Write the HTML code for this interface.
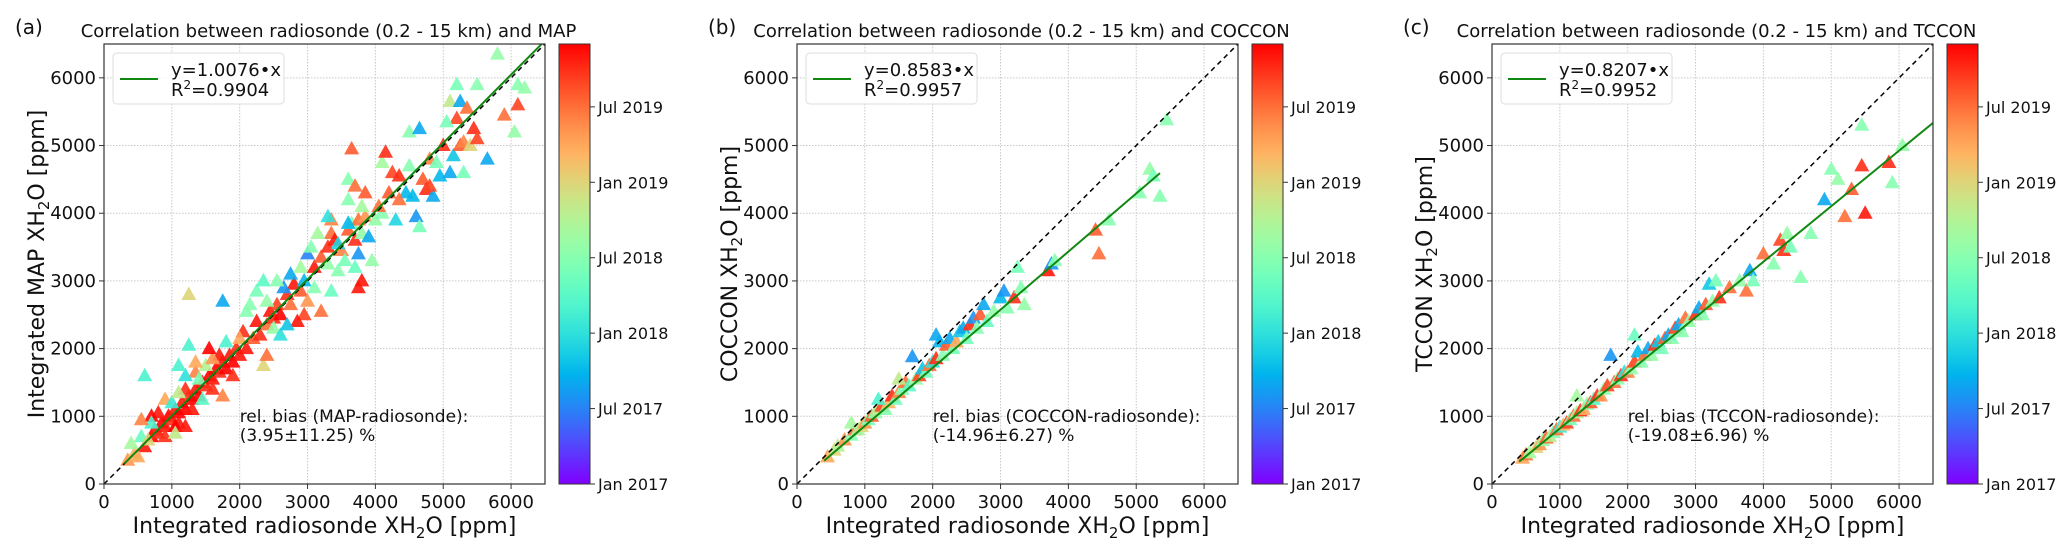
<!DOCTYPE html>
<html><head><meta charset="utf-8"><style>
html,body{margin:0;padding:0;background:#fff;}
svg{display:block;font-family:"DejaVu Sans","Liberation Sans",sans-serif;}
</style></head><body>
<svg id="fig" width="2067" height="552" viewBox="0 0 2067 552"></svg>
<script>
const xTicks=[0,1000,2000,3000,4000,5000,6000];
const yTicks=[0,1000,2000,3000,4000,5000,6000];
const cbTickMonths=[0,6,12,18,24,30];
const cbTickLabels=["Jan 2017","Jul 2017","Jan 2018","Jul 2018","Jan 2019","Jul 2019"];
const panelLetters=["(a)","(b)","(c)"];
const panelTitles=["Correlation between radiosonde (0.2 - 15 km) and MAP","Correlation between radiosonde (0.2 - 15 km) and COCCON","Correlation between radiosonde (0.2 - 15 km) and TCCON"];
const yLabels=["Integrated MAP XH","COCCON XH","TCCON XH"];
const slopes=[1.0076,0.8583,0.8207];
const r2s=["0.9904","0.9957","0.9952"];
const fitRanges=[[300,6500],[400,5350],[400,6500]];
const biasNames=["MAP","COCCON","TCCON"];
const biasVals=["(3.95±11.25) %","(-14.96±6.27) %","(-19.08±6.96) %"];
const dataA=[[600,550,34],[700,700,35],[750,800,34],[800,750,33],[850,900,35],[900,850,34],[950,1000,35],[1000,950,33],[1050,1100,34],[1100,1050,35],[1150,1200,34],[1200,1100,35],[1250,1300,33],[1300,1250,35],[1350,1400,34],[1400,1300,35],[1450,1500,34],[1500,1450,33],[1550,1600,35],[1600,1550,34],[1650,1700,35],[1700,1650,33],[1750,1800,34],[1800,1700,35],[1850,1900,34],[1900,1800,35],[1950,2000,33],[2000,1900,34],[800,1050,34],[900,700,33],[700,1000,35],[1100,900,34],[1200,1400,33],[1050,850,35],[1300,1100,34],[1600,1400,33],[1700,1900,34],[1900,1600,33],[1200,850,34],
[350,350,28],[450,450,26],[500,400,27],[400,600,20],[550,700,16],[650,650,24],[700,900,14],[550,950,29],[900,1250,27],[1000,1200,13],[1100,1350,22],[1050,750,22],[1350,1650,29],[1400,1550,17],[1500,1750,21],[1450,1250,15],[1600,1850,28],[1750,1300,29],[1800,2100,14],[1350,1800,27],[1200,1600,12],
[600,1600,14],[1250,2800,24],[1750,2700,8],[1250,2050,14],[1550,2000,35],[1100,1750,14],[2350,1750,24],
[2050,2250,33],[2100,2000,34],[2200,2150,31],[2250,2400,34],[2300,2200,33],[2400,2350,30],[2450,2550,34],[2500,2450,33],[2550,2650,32],[2600,2500,35],[2700,2800,33],[2750,2650,30],[2800,2950,34],[2900,2850,31],[2950,2500,32],[2850,2400,34],[2150,2650,18],[2250,2850,17],[2350,3000,15],[2400,2700,19],[2500,2300,19],[2600,2200,12],[2700,2350,10],[2650,2900,7],[2550,3000,18],[2750,3100,8],[2900,3200,20],[2950,3000,9],[3000,2700,28],[3100,2900,18],[2100,2550,18],[2000,2150,27],[2400,1900,30],[3200,2550,30],[3000,3400,6],
[3100,3200,34],[3200,3350,31],[3300,3500,33],[3350,3700,30],[3400,3600,34],[3500,3450,29],[3600,3750,31],[3650,3850,18],[3700,3600,33],[3750,3900,30],[3800,3700,19],[3850,3950,28],[3300,3250,19],[3450,3150,18],[3550,3300,17],[3700,3200,16],[3750,2900,34],[3800,3000,34],[3350,3900,29],[3300,3950,12],[3450,3550,11],[3600,3850,9],[3750,3400,7],[3900,3650,8],[3950,3300,19],[3350,2850,16],[3050,3500,18],[3150,3700,20],[3600,4500,18],[3700,4400,30],[3850,4300,31],[3800,4100,20],[3600,4200,18],
[4000,3900,19],[4100,4000,18],[4050,4100,30],[4200,4300,31],[4250,4600,32],[4300,3900,11],[4350,4550,33],[4450,4300,9],[4500,4700,18],[4550,4250,9],[4600,3950,7],[4650,3800,17],[4700,4500,31],[4750,4350,33],[4800,4800,29],[4850,4250,8],[4900,4750,17],[4950,4550,9],[5000,5000,33],[5100,4600,8],[5150,4850,10],[5200,5400,32],[5250,5000,31],[5300,5050,29],[5300,4600,17],[5400,5000,24],[5450,5250,33],[5500,5100,32],[5650,4800,8],[5100,5650,22],[5200,5900,17],[5500,5900,18],[4500,5200,18],[4650,5250,8],[4100,4750,20],[3650,4950,31],[4150,4900,33],[5800,6350,19],[6100,5600,32],[6050,5200,19],[5900,5450,30],[6100,5900,18],[6200,5850,19],[5250,5650,8],[5050,5350,17],[5350,5550,30],[4350,4200,30],[4800,4400,32]];
const dataB=[[450,400,27],[550,500,24],[600,560,21],[700,650,28],[800,720,18],[850,800,30],[900,800,20],[950,850,24],[1000,900,28],[1050,950,17],[1100,1000,31],[1150,1050,19],[1200,1100,22],[1250,1150,32],[1300,1100,18],[1350,1200,26],[1400,1300,33],[1450,1250,17],[1500,1350,29],[1550,1400,18],[1600,1500,30],[1650,1450,15],[1700,1880,7],[1750,1550,19],[1800,1600,32],[1850,1700,10],[1900,1650,17],[1950,1750,30],[2000,1800,12],[2050,1850,33],[2100,2100,9],[2150,1900,18],[2200,2050,31],[2250,2150,8],[2300,2000,17],[2350,2100,27],[2400,2250,10],[2450,2300,8],[2500,2150,17],[2550,2350,33],[2600,2450,7],[2650,2300,18],[2700,2500,31],[2750,2650,8],[2800,2400,16],[2900,2550,19],[3000,2750,9],[3050,2850,7],[3100,2600,18],[3200,2750,33],[3250,3200,17],[3300,2900,18],[3350,2650,19],[3700,3150,34],[3750,3250,7],[3800,3300,18],[4400,3750,31],[4450,3400,30],[4600,3900,18],[5050,4300,18],[5200,4650,19],[5250,4550,17],[5350,4250,18],[5450,5380,18],[2050,2200,8],[1500,1550,22],[1200,1250,14],[800,900,20]];
const dataC=[[450,380,27],[500,430,30],[550,460,20],[650,540,24],[700,580,28],[750,640,19],[800,680,31],[850,700,22],[900,760,18],[950,800,30],[1000,840,13],[1050,870,26],[1100,900,32],[1150,950,17],[1200,1000,30],[1250,1050,20],[1300,1080,33],[1350,1100,27],[1400,1180,18],[1450,1200,31],[1500,1250,15],[1550,1300,33],[1600,1300,28],[1650,1400,19],[1700,1450,32],[1750,1900,7],[1800,1500,30],[1850,1550,18],[1900,1600,33],[1950,1650,12],[2000,1650,29],[2050,1700,19],[2100,1800,32],[2150,1950,9],[2200,1800,18],[2250,1900,30],[2300,2000,8],[2350,1900,19],[2400,2050,33],[2450,2100,10],[2500,2000,17],[2550,2150,31],[2600,2200,8],[2650,2150,18],[2700,2300,32],[2750,2350,8],[2800,2250,18],[2850,2450,30],[2900,2400,19],[3000,2500,33],[3050,2600,8],[3100,2500,18],[3150,2650,31],[3200,2950,10],[3250,2700,19],[3300,3000,17],[3350,2750,33],[3500,2900,30],[3650,3000,19],[3750,2850,30],[3800,3150,8],[3850,3000,17],[4000,3400,30],[4150,3250,18],[4250,3600,32],[4300,3450,33],[4350,3700,19],[4550,3050,18],[4700,3700,18],[4900,4200,8],[5000,4650,18],[5100,4500,19],[5200,3950,30],[5450,4700,33],[5500,4000,34],[5450,5300,18],[5850,4750,33],[5900,4450,18],[6050,5000,19],[5300,4350,31],[4400,3500,17],[2100,2200,16],[1250,1300,20]];
const allData=[dataA,dataB,dataC];

const NS="http://www.w3.org/2000/svg";
const svg=document.getElementById('fig');
function mk(tag,attrs,parent){const e=document.createElementNS(NS,tag);for(const k in attrs)e.setAttribute(k,attrs[k]);(parent||svg).appendChild(e);return e;}
function cmap(v){v=Math.max(0,Math.min(1,v));const r=Math.min(1,Math.abs(2*v-0.5)),g=Math.sin(Math.PI*v),b=Math.cos(Math.PI*v/2);return `rgb(${Math.round(r*255)},${Math.round(g*255)},${Math.round(b*255)})`;}
const T_MAX=35, DMAX=6500;
const lefts=[104,797,1492], W=441, TOP=44, BOT=484;

const defs=mk('defs',{});
const grad=mk('linearGradient',{id:'cbgrad',x1:'0',y1:'1',x2:'0',y2:'0'},defs);
for(let i=0;i<=20;i++){mk('stop',{offset:(i/20),'stop-color':cmap(i/20)},grad);}

for(let p=0;p<3;p++){
  const L=lefts[p], R=L+W;
  const sx=v=>L+v/DMAX*W, sy=v=>BOT-v/DMAX*(BOT-TOP);
  const g=mk('g',{});
  
  
  const cp=mk('clipPath',{id:'clip'+p},defs);
  mk('rect',{x:L,y:TOP,width:W,height:BOT-TOP},cp);
  xTicks.forEach(t=>{const l=mk('line',{x1:sx(t),x2:sx(t),y1:TOP,y2:BOT,stroke:'#c8c8c8','stroke-width':1,'stroke-dasharray':'1.5,1.5'},g);});
  yTicks.forEach(t=>{const l=mk('line',{x1:L,x2:R,y1:sy(t),y2:sy(t),stroke:'#c8c8c8','stroke-width':1,'stroke-dasharray':'1.5,1.5'},g);});
  const pts=mk('g',{'clip-path':`url(#clip${p})`},g);
  
  
  allData[p].forEach(d=>{const cx=sx(d[0]),cy=sy(d[1]);const tri=mk('polygon',{points:`${cx},${cy-8} ${cx-7.5},${cy+5.5} ${cx+7.5},${cy+5.5}`,fill:cmap(d[2]/T_MAX),'fill-opacity':0.9},pts);});
  const one=mk('line',{x1:sx(0),y1:sy(0),x2:sx(DMAX),y2:sy(DMAX),stroke:'#000','stroke-width':1.5,'stroke-dasharray':'5,4','clip-path':`url(#clip${p})`},g);
  
  const fr=fitRanges[p];
  const fit=mk('line',{x1:sx(fr[0]),y1:sy(fr[0]*slopes[p]),x2:sx(fr[1]),y2:sy(fr[1]*slopes[p]),stroke:'#118811','stroke-width':2,'clip-path':`url(#clip${p})`},g);
  
  const fr2=mk('rect',{x:L,y:TOP,width:W,height:BOT-TOP,fill:'none',stroke:'#333','stroke-width':1.2},g);
  
  xTicks.forEach(t=>{mk('line',{x1:sx(t),x2:sx(t),y1:BOT,y2:BOT+5,stroke:'#333'},g);const tx=mk('text',{x:sx(t),y:BOT+24,'font-size':18,'text-anchor':'middle',fill:'#111'},g);tx.textContent=t;});
  yTicks.forEach(t=>{mk('line',{x1:L-5,x2:L,y1:sy(t),y2:sy(t),stroke:'#333'},g);const tx=mk('text',{x:L-8,y:sy(t)+6,'font-size':18,'text-anchor':'end',fill:'#111'},g);tx.textContent=t;});
  const xt=mk('text',{x:(L+R)/2,y:533,'font-size':22,'text-anchor':'middle',fill:'#111'},g);
  xt.innerHTML='Integrated radiosonde XH<tspan font-size="15" dy="5">2</tspan><tspan dy="-5">O [ppm]</tspan>';
  
  const yt=mk('text',{x:0,y:0,'font-size':22,'text-anchor':'middle',fill:'#111',transform:`translate(${L-60},${(TOP+BOT)/2}) rotate(-90)`},g);
  yt.innerHTML=yLabels[p]+'<tspan font-size="15" dy="5">2</tspan><tspan dy="-5">O [ppm]</tspan>';
  
  const ti=mk('text',{x:(L+R)/2+4,y:37,'font-size':18,'text-anchor':'middle',fill:'#111'},g);
  ti.textContent=panelTitles[p];
  const le=mk('text',{x:L-89,y:34,'font-size':20,fill:'#111'},g);
  le.textContent=panelLetters[p];
  const lg=mk('g',{},g);
  mk('rect',{x:L+9,y:53,width:171,height:51,rx:4,fill:'#fff','fill-opacity':0.85,stroke:'#ddd'},lg);
  mk('line',{x1:L+16,x2:L+54,y1:79,y2:79,stroke:'#118811','stroke-width':2},lg);
  const l1=mk('text',{x:L+67,y:76,'font-size':18,fill:'#111'},lg);l1.textContent='y='+slopes[p].toFixed(4)+'•x';
  const l2=mk('text',{x:L+67,y:96,'font-size':18,fill:'#111'},lg);l2.innerHTML='R<tspan font-size="12" dy="-7">2</tspan><tspan dy="7">='+r2s[p]+'</tspan>';
  const b1=mk('text',{x:sx(2000),y:422,'font-size':17,fill:'#111'},g);b1.textContent='rel. bias ('+biasNames[p]+'-radiosonde):';
  const b2=mk('text',{x:sx(2000),y:441,'font-size':17,fill:'#111'},g);b2.textContent=biasVals[p];
  const CL=R+14, CW=31;
  const cb=mk('rect',{x:CL,y:TOP,width:CW,height:BOT-TOP,fill:'url(#cbgrad)',stroke:'#333','stroke-width':1},g);
  
  cbTickMonths.forEach((m,i)=>{const y=BOT-m/T_MAX*(BOT-TOP);mk('line',{x1:CL+CW,x2:CL+CW+5,y1:y,y2:y,stroke:'#333'},g);const tx=mk('text',{x:CL+CW+8,y:y+6,'font-size':16,fill:'#111'},g);tx.textContent=cbTickLabels[i];});
}
</script>
</body></html>
